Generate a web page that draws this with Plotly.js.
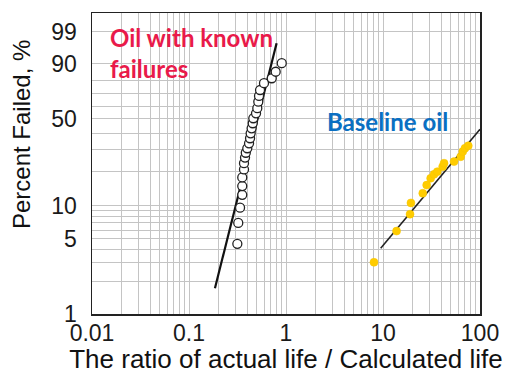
<!DOCTYPE html>
<html>
<head>
<meta charset="utf-8">
<script src="https://cdn.plot.ly/plotly-3.0.1.min.js"></script>
<style>html,body{margin:0;padding:0;background:#fff;} #chart{width:505px;height:374px;}</style>
</head>
<body>
<div id="chart"></div>
<script>
// ---- Data ----
// Oil with known failures: ratio of actual / calculated life, percent failed
const failRatio = [0.315, 0.322, 0.336, 0.354, 0.354, 0.354, 0.369, 0.369, 0.378, 0.385,
                   0.399, 0.416, 0.426, 0.432, 0.442, 0.454, 0.460, 0.491, 0.506, 0.518,
                   0.527, 0.540, 0.593, 0.713, 0.783, 0.904];
const failPct   = [4.5, 7.0, 9.6, 12.5, 14.9, 17.7, 20.7, 23.3, 25.9, 28.3,
                   30.7, 33.5, 36.6, 39.8, 43.2, 46.8, 50.5, 54.3, 58.3, 63.5,
                   68.1, 72.7, 77.8, 81.3, 85.5, 90.2];
// Weibull fit line for the failure oil
const failFitRatio = [0.185, 0.80];
const failFitPct   = [1.74, 97.2];

// Baseline oil
const baseRatio = [8.07, 13.8, 19.0, 19.4, 25.7, 28.2, 31.0, 33.6, 36.3, 41.2,
                   42.6, 54.0, 63.2, 66.4, 70.0, 75.7];
const basePct   = [3.04, 5.9, 8.4, 10.6, 12.9, 15.2, 17.4, 18.8, 19.8, 21.8,
                   23.3, 24.0, 26.3, 28.9, 30.7, 32.1];
const baseFitRatio = [9.47, 100];
const baseFitPct   = [4.1, 42.5];

// Axis ticks
const xTickVals = [0.01, 0.1, 1, 10, 100];
const xTickText = ['0.01', '0.1', '1', '10', '100'];
const yTickPct  = [1, 5, 10, 50, 90, 99];
const yTickText = ['1', '5', '10', '50', '90', '99'];
const yGridPct  = [2, 3, 4, 6, 7, 8, 9, 20, 30, 40, 60, 70, 80];
const yRangePct = [1, 99.9];

// Weibull probability scale
const wb = p => Math.log(-Math.log(1 - p / 100));

const gridColor = '#c4c4c4';
const axisFont = {family: 'Liberation Sans, Arial, sans-serif', size: 23, color: '#1a1a1a'};

const traces = [
  {
    x: failFitRatio, y: failFitPct.map(wb), mode: 'lines', type: 'scatter',
    line: {color: '#111', width: 2.2}, hoverinfo: 'skip', showlegend: false
  },
  {
    x: baseFitRatio, y: baseFitPct.map(wb), mode: 'lines', type: 'scatter',
    line: {color: '#222', width: 1.6}, hoverinfo: 'skip', showlegend: false
  },
  {
    x: failRatio, y: failPct.map(wb), mode: 'markers', type: 'scatter',
    marker: {symbol: 'circle', size: 9, color: '#ffffff', line: {color: '#222', width: 1.3}},
    showlegend: false
  },
  {
    x: baseRatio, y: basePct.map(wb), mode: 'markers', type: 'scatter',
    marker: {symbol: 'circle', size: 8, color: '#FFCC00', line: {color: '#F5C400', width: 0.5}},
    showlegend: false
  }
];

const layout = {
  width: 505, height: 374,
  margin: {l: 92, r: 25, t: 13, b: 60},
  paper_bgcolor: '#ffffff', plot_bgcolor: '#ffffff',
  font: axisFont,
  showlegend: false,
  xaxis: {
    type: 'log',
    range: [-2, 2],
    tickvals: xTickVals, ticktext: xTickText,
    tickfont: axisFont,
    ticks: '', ticklabelstandoff: -2,
    showgrid: true, gridcolor: gridColor, gridwidth: 1,
    minor: {dtick: 'D1', showgrid: true, gridcolor: gridColor, gridwidth: 1, ticks: ''},
    showline: true, linecolor: '#222', linewidth: 1.5, mirror: true,
    zeroline: false,
    title: {text: 'The ratio of actual life / Calculated life',
            font: {family: 'Liberation Sans, Arial, sans-serif', size: 26, color: '#111'}, standoff: 2},
    automargin: false
  },
  yaxis: {
    range: yRangePct.map(wb),
    tickvals: yTickPct.map(wb), ticktext: yTickText,
    tickfont: axisFont,
    ticks: '', ticklabelstandoff: 9,
    showgrid: true, gridcolor: gridColor, gridwidth: 1,
    minor: {tickvals: yGridPct.map(wb), showgrid: true, gridcolor: gridColor, gridwidth: 1, ticks: ''},
    showline: true, linecolor: '#222', linewidth: 1.5, mirror: true,
    zeroline: false,
    automargin: false
  },
  annotations: [
    {
      xref: 'paper', yref: 'paper', x: -0.18, y: 0.595, xanchor: 'center', yanchor: 'middle',
      textangle: -90, showarrow: false,
      text: 'Percent Failed, %',
      font: {family: 'Liberation Sans, Arial, sans-serif', size: 24, color: '#111'}
    },
    {
      xref: 'paper', yref: 'paper', x: 0.041, y: 0.867, xanchor: 'left', yanchor: 'middle',
      align: 'left', showarrow: false,
      text: '<b>Oil with known<br>failures</b>',
      font: {family: 'Lato, sans-serif', size: 24, color: '#E91A4A'}
    },
    {
      xref: 'paper', yref: 'paper', x: 0.6005, y: 0.638, xanchor: 'left', yanchor: 'middle',
      showarrow: false,
      text: '<b>Baseline oil</b>',
      font: {family: 'Lato, sans-serif', size: 24, color: '#0A6FC2'}
    }
  ]
};

Plotly.newPlot('chart', traces, layout, {staticPlot: true, displayModeBar: false});
</script>
</body>
</html>
